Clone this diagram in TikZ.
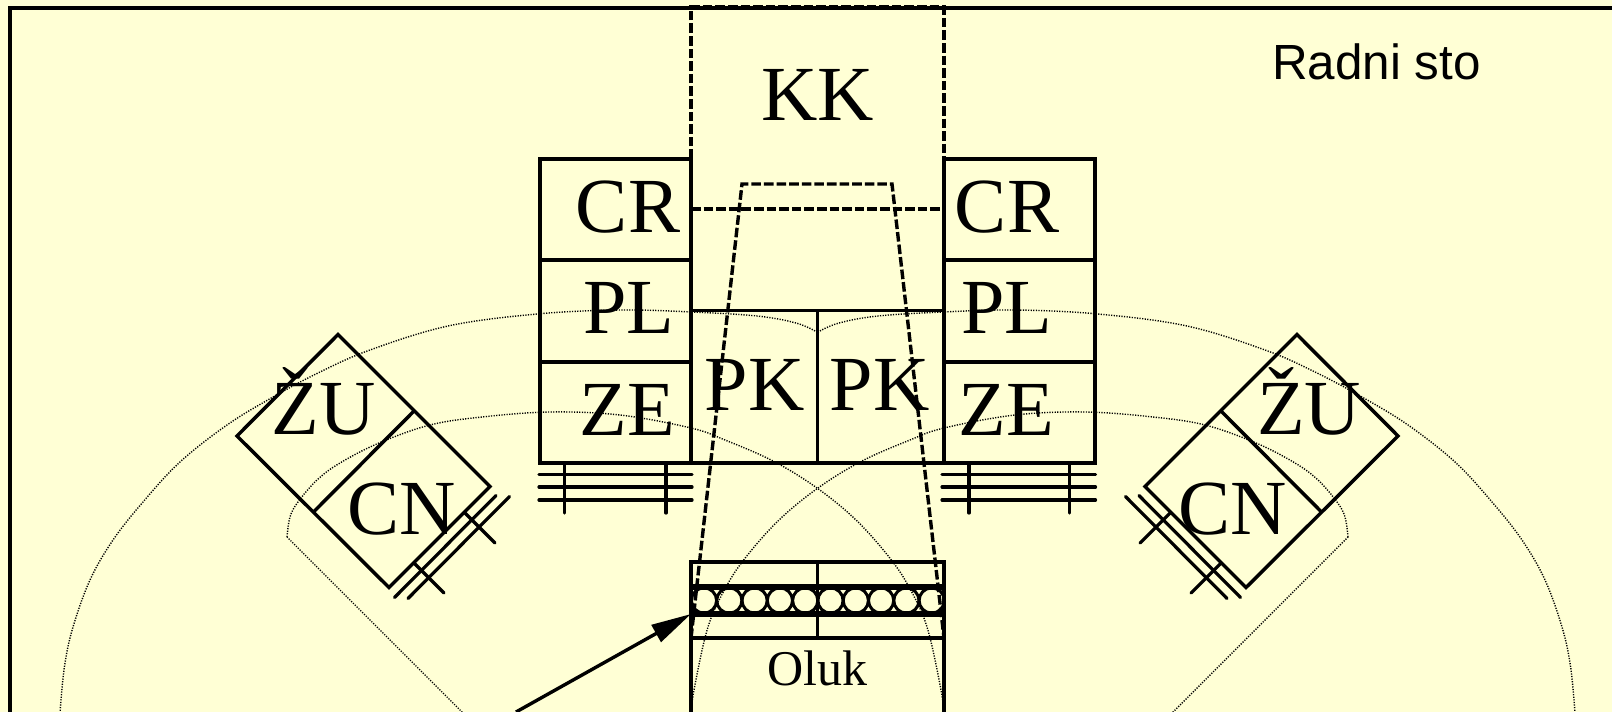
\documentclass[tikz,border=0pt]{standalone}
\usepackage{fontspec}
\setmainfont{Liberation Serif}
\newfontfamily\labelsans{Liberation Sans}
\usetikzlibrary{arrows.meta}
\definecolor{paper}{HTML}{FFFFD5}
\tikzset{
  every picture/.style={x=0.5pt,y=-0.5pt},
  wall/.style={draw=black,line width=1.75pt,line cap=round,line join=miter},
  thin wall/.style={draw=black,line width=1.6pt},
  band/.style={draw=black,line width=2.6pt},
  frame line/.style={draw=black,line width=2.2pt},
  dash line/.style={draw=black,line width=1.7pt,dash pattern=on 4.8pt off 1.5pt},
  reach/.style={draw=black,line width=0.7pt,dash pattern=on 0.6pt off 0.7pt},
  big/.style={inner sep=0pt,anchor=base,font=\fontsize{39}{41}\selectfont},
  small/.style={inner sep=0pt,anchor=base,font=\fontsize{25}{27}\selectfont},
  sanslabel/.style={inner sep=0pt,anchor=base,font=\labelsans\fontsize{24.7}{26}\selectfont},
  pointer/.style={draw=black,line width=1.7pt,-{Triangle[length=20pt,width=9.5pt]}},
}
\begin{document}
\begin{tikzpicture}
\useasboundingbox (0,0) rectangle (1612,712);
\clip (0,0) rectangle (1612,712);
\fill[paper] (0,0) rectangle (1612,712);

% reach curves
\foreach \m/\o in {1/0,-1/1635}{
\begin{scope}[xshift=\o*0.5pt,x=\m*0.5pt]
\draw[reach] plot[smooth,tension=0.6] coordinates {(60,716) (61,700) (65,663) (73,627) (90,580) (113,540) (143,502) (180,462) (227,425) (273,397) (320,372) (370,350) (448,326) (537,314) (620,310) (692,312) (757,316) (796,323) (817,332)};
\draw[reach] (466,716) -- (287,537);
\draw[reach] plot[smooth,tension=0.6] coordinates {(287,537) (290,517) (298,502) (317,480) (340,463) (379,443) (430,425) (482,417) (550,412) (620,415) (691,428) (725,440) (773,461) (817,488) (856,520) (889,557) (909,587) (927,627) (941,690) (944,716)};
\end{scope}
}

% frame
\draw[frame line] (10,712) -- (10,8) -- (1612,8);

% KK and trapezoid dashed
\draw[dash line] (691,159) -- (691,7) -- (944,7) -- (944,159);
\draw[dash line] (691,209) -- (944,209);
\draw[dash line] (691,638) -- (742,184) -- (892,184) -- (944,638);

% columns
\foreach \a/\b/\c/\d in {540/691/159/260, 540/691/260/362, 540/691/362/463, 944/1095/159/260, 944/1095/260/362, 944/1095/362/463}{
  \draw[wall] (\a,\c) rectangle (\b,\d);
}
% PK boxes
\draw[wall] (691,310.5) rectangle (817.5,463);
\draw[wall] (817.5,310.5) rectangle (944,463);

% bars under the columns
\foreach \a/\b/\p/\q in {539/692/564.5/666, 942/1095.5/969/1069.5}{
  \foreach \y in {474.5,487,500}{\draw[thin wall,line cap=round] (\a,\y) -- (\b,\y);}
  \draw[thin wall,line cap=round] (\p,463) -- (\p,513);
  \draw[thin wall,line cap=round] (\q,463) -- (\q,513);
}

% rotated boxes
\draw[wall] (338,334.5) -- (490,486.5) -- (389,587.5) -- (237,436) -- cycle;
\draw[wall] (413,412) -- (314,511.5);
\draw[thin wall,line cap=round] (394.5,597.5) -- (496,495.5);
\draw[thin wall,line cap=round] (408,598.5) -- (509.5,496.5);
\draw[thin wall,line cap=round] (465,513) -- (495,543);
\draw[thin wall,line cap=round] (414,563) -- (444,593);

\draw[wall] (1297,334.5) -- (1398,436) -- (1246,587.5) -- (1145,486.5) -- cycle;
\draw[wall] (1222,412) -- (1321,511.5);
\draw[thin wall,line cap=round] (1240.5,597.5) -- (1139,495.5);
\draw[thin wall,line cap=round] (1227,598.5) -- (1125.5,496.5);
\draw[thin wall,line cap=round] (1170,513) -- (1140,543);
\draw[thin wall,line cap=round] (1221,563) -- (1191,593);

% trough
\draw[wall] (691,562) rectangle (944,638);
\draw[wall] (817.5,562) -- (817.5,638);
\draw[band] (691,587) -- (944,587);
\draw[band] (691,614) -- (944,614);
\draw[wall] (691,638) -- (691,716);
\draw[wall] (944,638) -- (944,716);
\foreach \i in {0,...,9}{
  \draw[draw=black,line width=1.5pt] ({704+25.3*\i},600.5) circle[x radius=12.6,y radius=12.6];
}

% labels
\node[big] (kk) at (818,120) {KK};
\node[big] (crl) at (628,232.5) {CR};
\node[big] (plb) at (629,333) {PL};
\node[big] (zel) at (627.5,435) {ZE};
\node[big] (crr) at (1007,232.5) {CR};
\node[big] (plr) at (1007,333) {PL};
\node[big] (zer) at (1006,435) {ZE};
\node[big] (pkl) at (754.5,410) {PK};
\node[big] (pkr) at (879.5,410) {PK};
\node[big] (zul) at (323.5,434) {ŽU};
\node[big] (cnl) at (401.5,534) {CN};
\node[big] (zur) at (1309,434) {ŽU};
\node[big] (cnr) at (1233,534) {CN};
\node[small] (oluk) at (817,685) {Oluk};
\node[sanslabel] (sto) at (1376.5,79.5) {Radni sto};

% arrow
\coordinate (from) at (516,712);
\coordinate (to) at (691,614);
\draw[pointer] (from) -- (to);
\end{tikzpicture}
\end{document}
